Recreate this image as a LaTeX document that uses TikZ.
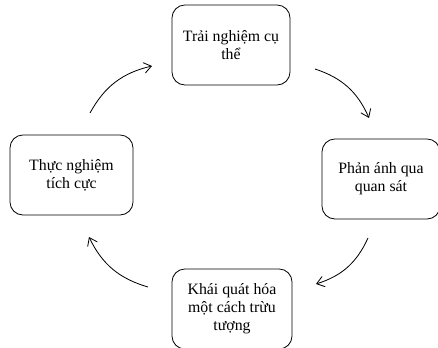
\documentclass[tikz,border=0pt]{standalone}
\usepackage{fontspec}
\setmainfont{Liberation Serif}
\usetikzlibrary{arrows.meta}

\begin{document}
\begin{tikzpicture}[x=0.03cm, y=-0.03cm, line width = 0.7pt]
\tikzstyle{stagebox}=[rectangle,draw,rounded corners=11pt,minimum width=3.54cm,minimum height=2.4cm,align=center,font=\fontsize{13.5}{15.5}\selectfont,inner sep=2pt];
\tikzstyle{cyc}=[->,>={Straight Barb[length=2.2mm,width=3.2mm]},bend left=24];

\useasboundingbox (0,0) rectangle (438,348);

\draw(231,45) node[stagebox] (Exp) {Trải nghiệm cụ\\thể};
\draw(381,179) node[stagebox] (Refl) {Phản ánh qua\\quan sát};
\draw(232,309) node[stagebox,minimum width=3.6cm] (Abst) {Khái quát hóa\\một cách trừu\\tượng};
\draw(71.5,175) node[stagebox,minimum width=3.69cm] (Act) {Thực nghiệm\\tích cực};

% arrow ends
\coordinate (a1) at (90,113);  \coordinate (b1) at (152,66);
\coordinate (a2) at (315,69);  \coordinate (b2) at (369,118);
\coordinate (a3) at (368,238); \coordinate (b3) at (316,284);
\coordinate (a4) at (148,287); \coordinate (b4) at (89,237);

\draw[cyc] (a1) to (b1);
\draw[cyc] (a2) to (b2);
\draw[cyc] (a3) to (b3);
\draw[cyc] (a4) to (b4);
\end{tikzpicture}
\end{document}
